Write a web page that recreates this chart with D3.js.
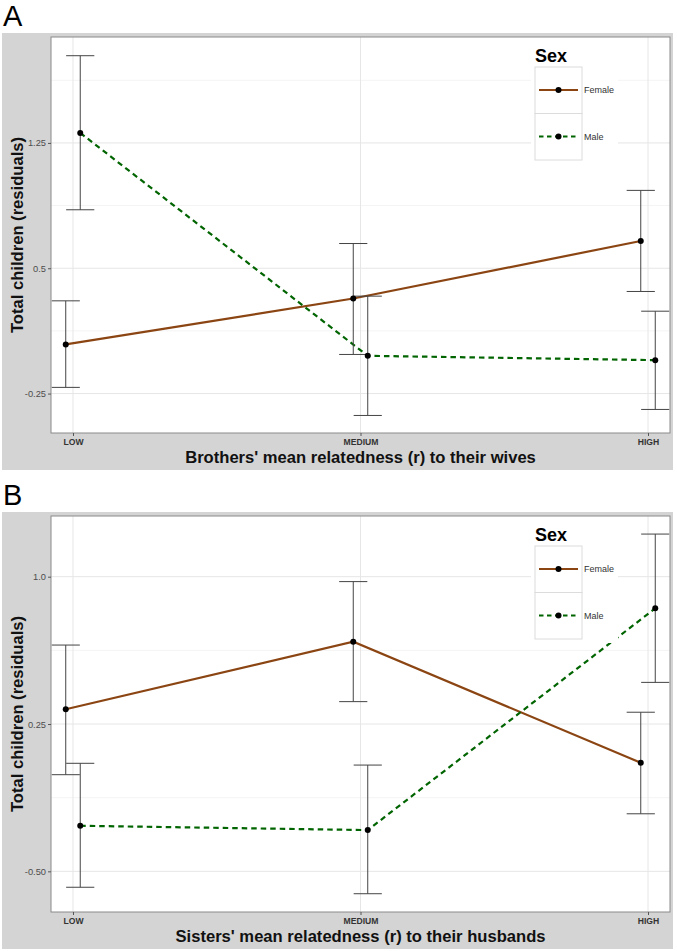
<!DOCTYPE html>
<html><head><meta charset="utf-8">
<script src="https://cdn.jsdelivr.net/npm/d3@7"></script>
<style>body{margin:0;background:#fff;} svg{display:block;font-family:"Liberation Sans",Arial,sans-serif;}</style>
</head><body>
<svg id="chart" width="677" height="951"></svg>
<script>
const categories = ["LOW", "MEDIUM", "HIGH"];
const seriesNames = ["Female", "Male"];

// Panel A: brothers
const aFemaleMean = [0.044, 0.319, 0.663];
const aFemaleLo   = [-0.213, -0.016, 0.361];
const aFemaleHi   = [0.305, 0.648, 0.966];
const aMaleMean   = [1.31, -0.024, -0.05];
const aMaleLo     = [0.85, -0.381, -0.345];
const aMaleHi     = [1.772, 0.333, 0.243];
const aTicks      = [-0.25, 0.5, 1.25];
const aTickLabels = ["-0.25", "0.5", "1.25"];
const aMinor      = [0.125, 0.875, 1.625];
const aDomain     = [-0.486, 1.884];

// Panel B: sisters
const bFemaleMean = [0.325, 0.669, 0.053];
const bFemaleLo   = [-0.008, 0.364, -0.207];
const bFemaleHi   = [0.652, 0.975, 0.31];
const bMaleMean   = [-0.268, -0.29, 0.839];
const bMaleLo     = [-0.581, -0.614, 0.462];
const bMaleHi     = [0.05, 0.041, 1.217];
const bTicks      = [-0.5, 0.25, 1.0];
const bTickLabels = ["-0.50", "0.25", "1.0"];
const bMinor      = [-0.125, 0.625];
const bDomain     = [-0.707, 1.309];

const colors = {Female: "#8B4513", Male: "#006400"};
const svg = d3.select("#chart");

function panel(cfg) {
  const L = 51, R = 670, T = cfg.top, B = cfg.top + 396;
  // outer gray background
  svg.append("rect").attr("x", 2).attr("y", T - 4).attr("width", 671).attr("height", 437)
    .attr("fill", "#d4d4d4");
  // panel letter
  svg.append("text").attr("x", 3).attr("y", T - 11).attr("font-size", 29)
    .attr("fill", "#000").text(cfg.letter);
  // panel
  svg.append("rect").attr("x", L).attr("y", T).attr("width", R - L).attr("height", B - T)
    .attr("fill", "#fff");

  const x = d3.scalePoint().domain(categories).range([L, R]).padding(0.0765);
  const y = d3.scaleLinear().domain(cfg.domain).range([B, T]);
  const step = x.step();
  const dodge = step * 0.0252;
  const capHalf = step * 0.049;

  const g = svg.append("g");
  const clipId = "clip" + cfg.letter;
  svg.append("clipPath").attr("id", clipId).append("rect")
    .attr("x", L).attr("y", T).attr("width", R - L).attr("height", B - T);

  // gridlines
  g.selectAll(".minor").data(cfg.minor).join("line")
    .attr("x1", L).attr("x2", R).attr("y1", d => y(d)).attr("y2", d => y(d))
    .attr("stroke", "#f4f4f4").attr("stroke-width", 1);
  g.selectAll(".major").data(cfg.ticks).join("line")
    .attr("x1", L).attr("x2", R).attr("y1", d => y(d)).attr("y2", d => y(d))
    .attr("stroke", "#e6e6e6").attr("stroke-width", 1);
  g.selectAll(".vgrid").data(categories).join("line")
    .attr("x1", d => x(d)).attr("x2", d => x(d)).attr("y1", T).attr("y2", B)
    .attr("stroke", "#e6e6e6").attr("stroke-width", 1);

  const series = [
    {name: "Female", mean: cfg.fMean, lo: cfg.fLo, hi: cfg.fHi, off: -dodge},
    {name: "Male", mean: cfg.mMean, lo: cfg.mLo, hi: cfg.mHi, off: dodge}
  ];

  const plot = svg.append("g").attr("clip-path", `url(#${clipId})`);

  // lines
  series.forEach(s => {
    const pts = categories.map((c, i) => [x(c) + s.off, y(s.mean[i])]);
    plot.append("path").attr("d", d3.line()(pts)).attr("fill", "none")
      .attr("stroke", colors[s.name]).attr("stroke-width", 2.2)
      .attr("stroke-dasharray", s.name === "Male" ? "5.5,4" : null);
  });
  // error bars
  series.forEach(s => {
    categories.forEach((c, i) => {
      const cx = x(c) + s.off;
      const eg = plot.append("g").attr("stroke", "#444").attr("stroke-width", 1).attr("fill", "none");
      eg.append("line").attr("x1", cx).attr("x2", cx).attr("y1", y(s.lo[i])).attr("y2", y(s.hi[i]));
      eg.append("line").attr("x1", cx - capHalf).attr("x2", cx + capHalf).attr("y1", y(s.lo[i])).attr("y2", y(s.lo[i]));
      eg.append("line").attr("x1", cx - capHalf).attr("x2", cx + capHalf).attr("y1", y(s.hi[i])).attr("y2", y(s.hi[i]));
    });
  });
  // points
  series.forEach(s => {
    plot.selectAll(null).data(categories).join("circle")
      .attr("cx", (c) => x(c) + s.off).attr("cy", (c, i) => y(s.mean[i]))
      .attr("r", 3).attr("fill", "#000");
  });

  // panel border
  svg.append("rect").attr("x", L).attr("y", T).attr("width", R - L).attr("height", B - T)
    .attr("fill", "none").attr("stroke", "#8a8a8a").attr("stroke-width", 1);

  // y axis
  const yAxis = d3.axisLeft(y).tickValues(cfg.ticks).tickSize(3).tickPadding(2)
    .tickFormat((d, i) => cfg.tickLabels[i]);
  const ya = svg.append("g").attr("transform", `translate(${L},0)`).call(yAxis);
  ya.select(".domain").remove();
  ya.selectAll(".tick line").attr("stroke", "#555");
  ya.selectAll(".tick text").attr("font-size", 9.3).attr("fill", "#4d4d4d")
    .attr("font-family", "Liberation Sans, Arial, sans-serif");

  // x axis
  const xAxis = d3.axisBottom(x).tickSize(3).tickPadding(3);
  const xa = svg.append("g").attr("transform", `translate(0,${B})`).call(xAxis);
  xa.select(".domain").remove();
  xa.selectAll(".tick line").attr("stroke", "#555");
  xa.selectAll(".tick text").attr("font-size", 8.6).attr("font-weight", "bold").attr("fill", "#333")
    .attr("font-family", "Liberation Sans, Arial, sans-serif");

  // axis titles
  svg.append("text").attr("x", (L + R) / 2).attr("y", B + 30).attr("text-anchor", "middle")
    .attr("font-size", 16.6).attr("font-weight", "bold").attr("fill", "#111").text(cfg.xTitle);
  svg.append("text").attr("transform", `translate(${22.5},${(T + B) / 2}) rotate(-90)`)
    .attr("text-anchor", "middle").attr("font-size", 16.6).attr("font-weight", "bold").attr("fill", "#111")
    .text("Total children (residuals)");

  // legend
  const lx = 535, ly = T + 30, kw = 47, kh = 46.5;
  svg.append("rect").attr("x", 531).attr("y", T + 8).attr("width", 87).attr("height", 119).attr("fill", "#fff");
  svg.append("text").attr("x", lx).attr("y", T + 25).attr("font-size", 18).attr("font-weight", "bold")
    .attr("fill", "#000").text("Sex");
  seriesNames.forEach((n, i) => {
    const ky = ly + i * kh;
    svg.append("rect").attr("x", lx).attr("y", ky).attr("width", kw).attr("height", kh)
      .attr("fill", "#fff").attr("stroke", "#dcdcdc").attr("stroke-width", 1);
    svg.append("line").attr("x1", lx + 4).attr("x2", lx + 43).attr("y1", ky + 23).attr("y2", ky + 23)
      .attr("stroke", colors[n]).attr("stroke-width", 2.2)
      .attr("stroke-dasharray", n === "Male" ? "4.5,3.5" : null);
    svg.append("circle").attr("cx", lx + kw / 2).attr("cy", ky + 23).attr("r", 3).attr("fill", "#000");
    svg.append("text").attr("x", lx + kw + 2).attr("y", ky + 26).attr("font-size", 9)
      .attr("fill", "#333").text(n);
  });
}

panel({letter: "A", top: 37, domain: aDomain, ticks: aTicks, tickLabels: aTickLabels, minor: aMinor,
  fMean: aFemaleMean, fLo: aFemaleLo, fHi: aFemaleHi, mMean: aMaleMean, mLo: aMaleLo, mHi: aMaleHi,
  xTitle: "Brothers' mean relatedness (r) to their wives"});
panel({letter: "B", top: 516, domain: bDomain, ticks: bTicks, tickLabels: bTickLabels, minor: bMinor,
  fMean: bFemaleMean, fLo: bFemaleLo, fHi: bFemaleHi, mMean: bMaleMean, mLo: bMaleLo, mHi: bMaleHi,
  xTitle: "Sisters' mean relatedness (r) to their husbands"});
</script>
</body></html>
